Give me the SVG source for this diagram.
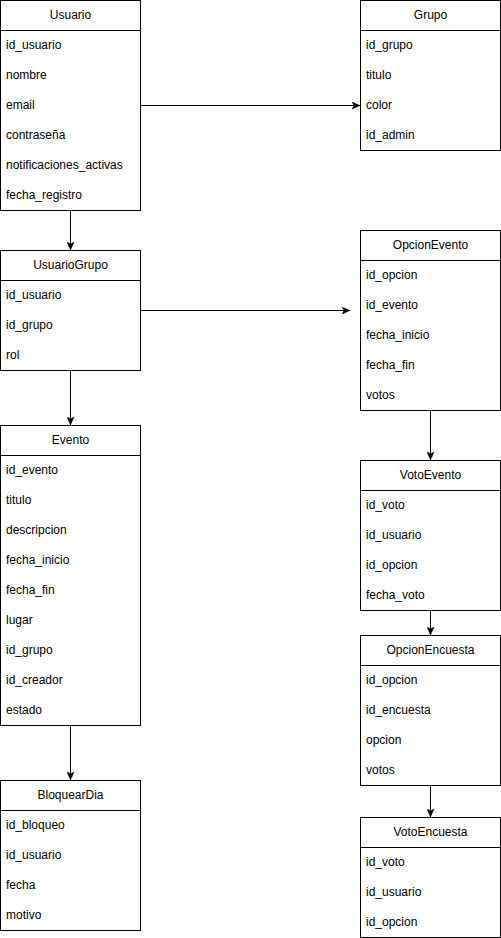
<svg xmlns="http://www.w3.org/2000/svg" width="501" height="938" viewBox="0 0 501 938">
<style>
rect.box{fill:#ffffff;stroke:#000000;stroke-width:1}
line.sep{stroke:#000000;stroke-width:1}
text{font-family:"Liberation Sans",Arial,Helvetica,sans-serif;font-size:12px;fill:#000000}
text.title{text-anchor:middle}
.conn{stroke:#000000;stroke-width:1;fill:none;marker-end:url(#arrow)}
</style>
<defs>
<marker id="arrow" viewBox="0 0 8 8" markerWidth="8" markerHeight="8" markerUnits="userSpaceOnUse" refX="8" refY="4" orient="auto">
<path d="M0,0.5 L8,4 L0,7.5 L2,4 Z" fill="#000000" stroke="#000000" stroke-width="0.5"/>
</marker>
</defs>
<rect width="501" height="938" fill="#ffffff"/>
<g id="connectors">
<line class="conn" x1="140.5" y1="105.5" x2="360" y2="105.5"/>
<line class="conn" x1="140.5" y1="310.5" x2="350" y2="310.5"/>
<line class="conn" x1="70.5" y1="210.5" x2="70.5" y2="250"/>
<line class="conn" x1="70.5" y1="370.5" x2="70.5" y2="425"/>
<line class="conn" x1="70.5" y1="725.5" x2="70.5" y2="780"/>
<line class="conn" x1="430.5" y1="410.5" x2="430.5" y2="460"/>
<line class="conn" x1="430.5" y1="610.5" x2="430.5" y2="635"/>
<line class="conn" x1="430.5" y1="785.5" x2="430.5" y2="817"/>
</g>
<g id="Usuario">
<rect class="box" x="0.5" y="0.5" width="140" height="210"/>
<line class="sep" x1="0.5" y1="30.5" x2="140.5" y2="30.5"/>
<text class="title" x="70.5" y="19">Usuario</text>
<text x="6" y="49">id_usuario</text>
<text x="6" y="79">nombre</text>
<text x="6" y="109">email</text>
<text x="6" y="139">contraseña</text>
<text x="6" y="169">notificaciones_activas</text>
<text x="6" y="199">fecha_registro</text>
</g>
<g id="UsuarioGrupo">
<rect class="box" x="0.5" y="250.5" width="140" height="120"/>
<line class="sep" x1="0.5" y1="280.5" x2="140.5" y2="280.5"/>
<text class="title" x="70.5" y="269">UsuarioGrupo</text>
<text x="6" y="299">id_usuario</text>
<text x="6" y="329">id_grupo</text>
<text x="6" y="359">rol</text>
</g>
<g id="Evento">
<rect class="box" x="0.5" y="425.5" width="140" height="300"/>
<line class="sep" x1="0.5" y1="455.5" x2="140.5" y2="455.5"/>
<text class="title" x="70.5" y="444">Evento</text>
<text x="6" y="474">id_evento</text>
<text x="6" y="504">titulo</text>
<text x="6" y="534">descripcion</text>
<text x="6" y="564">fecha_inicio</text>
<text x="6" y="594">fecha_fin</text>
<text x="6" y="624">lugar</text>
<text x="6" y="654">id_grupo</text>
<text x="6" y="684">id_creador</text>
<text x="6" y="714">estado</text>
</g>
<g id="BloquearDia">
<rect class="box" x="0.5" y="780.5" width="140" height="150"/>
<line class="sep" x1="0.5" y1="810.5" x2="140.5" y2="810.5"/>
<text class="title" x="70.5" y="799">BloquearDia</text>
<text x="6" y="829">id_bloqueo</text>
<text x="6" y="859">id_usuario</text>
<text x="6" y="889">fecha</text>
<text x="6" y="919">motivo</text>
</g>
<g id="Grupo">
<rect class="box" x="360.5" y="0.5" width="140" height="150"/>
<line class="sep" x1="360.5" y1="30.5" x2="500.5" y2="30.5"/>
<text class="title" x="430.5" y="19">Grupo</text>
<text x="366" y="49">id_grupo</text>
<text x="366" y="79">titulo</text>
<text x="366" y="109">color</text>
<text x="366" y="139">id_admin</text>
</g>
<g id="OpcionEvento">
<rect class="box" x="360.5" y="230.5" width="140" height="180"/>
<line class="sep" x1="360.5" y1="260.5" x2="500.5" y2="260.5"/>
<text class="title" x="430.5" y="249">OpcionEvento</text>
<text x="366" y="279">id_opcion</text>
<text x="366" y="309">id_evento</text>
<text x="366" y="339">fecha_inicio</text>
<text x="366" y="369">fecha_fin</text>
<text x="366" y="399">votos</text>
</g>
<g id="VotoEvento">
<rect class="box" x="360.5" y="460.5" width="140" height="150"/>
<line class="sep" x1="360.5" y1="490.5" x2="500.5" y2="490.5"/>
<text class="title" x="430.5" y="479">VotoEvento</text>
<text x="366" y="509">id_voto</text>
<text x="366" y="539">id_usuario</text>
<text x="366" y="569">id_opcion</text>
<text x="366" y="599">fecha_voto</text>
</g>
<g id="OpcionEncuesta">
<rect class="box" x="360.5" y="635.5" width="140" height="150"/>
<line class="sep" x1="360.5" y1="665.5" x2="500.5" y2="665.5"/>
<text class="title" x="430.5" y="654">OpcionEncuesta</text>
<text x="366" y="684">id_opcion</text>
<text x="366" y="714">id_encuesta</text>
<text x="366" y="744">opcion</text>
<text x="366" y="774">votos</text>
</g>
<g id="VotoEncuesta">
<rect class="box" x="360.5" y="817.5" width="140" height="120"/>
<line class="sep" x1="360.5" y1="847.5" x2="500.5" y2="847.5"/>
<text class="title" x="430.5" y="836">VotoEncuesta</text>
<text x="366" y="866">id_voto</text>
<text x="366" y="896">id_usuario</text>
<text x="366" y="926">id_opcion</text>
</g>
</svg>
